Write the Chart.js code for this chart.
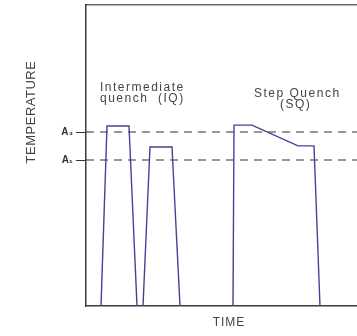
<!DOCTYPE html>
<html>
<head>
<meta charset="utf-8">
<script src="https://cdn.jsdelivr.net/npm/chart.js@4"></script>
<style>
  body { margin: 0; background: #fff; }
</style>
</head>
<body>
<canvas id="quench_canvas" width="357" height="336"></canvas>
<script>
// time / temperature points of each treatment (arbitrary units)
const iq1Time = [15, 21, 43, 51];
const iq1Temp = [0, 59.8, 59.8, 0];
const iq2Time = [57, 64, 86, 94];
const iq2Temp = [0, 52.8, 52.8, 0];
const sqTime = [147, 148, 166, 212, 228, 234];
const sqTemp = [0, 60.1, 60.1, 53.2, 53.2, 0];

// critical temperatures
const levelNames = ['A₁', 'A₃'];
const levelTemps = [48.5, 57.8];

const timeMax = 271;
const tempMax = 100;

function toPoints(xs, ys) {
    return xs.map((x, i) => ({ x: x, y: ys[i] }));
}

const lineColor = '#4b3f95';
const inkColor = '#3c3c3c';

const datasets = [
    { data: toPoints(iq1Time, iq1Temp) },
    { data: toPoints(iq2Time, iq2Temp) },
    { data: toPoints(sqTime, sqTemp) }
].map(ds => Object.assign(ds, {
    borderColor: lineColor,
    borderWidth: 1.4,
    pointRadius: 0,
    fill: false,
    tension: 0
}));

levelTemps.forEach(t => {
    datasets.push({
        data: [{ x: 0, y: t }, { x: timeMax, y: t }],
        borderColor: '#333',
        borderWidth: 1.2,
        borderDash: [8, 6],
        pointRadius: 0,
        fill: false
    });
});

// free text of the figure
const labelPlugin = {
    id: 'labels',
    afterDraw(chart) {
        const c = chart.ctx;
        c.save();
        c.fillStyle = '#444';
        c.textBaseline = 'middle';
        c.letterSpacing = '1.5px';
        c.font = '12px "Liberation Sans"';
        c.textAlign = 'left';
        c.fillText('Intermediate', 100, 88);
        c.fillText('quench  (IQ)', 100, 99);
        c.fillText('Step Quench', 254, 94);
        c.fillText('(SQ)', 280, 105);

        c.letterSpacing = '1px';
        c.textAlign = 'center';
        c.fillText('TIME', 229, 323);

        c.letterSpacing = '0.5px';
        c.font = '13px "Liberation Sans"';
        c.translate(31, 112);
        c.rotate(-Math.PI / 2);
        c.fillText('TEMPERATURE', 0, 0);
        c.restore();
    }
};

const ctx = document.getElementById('quench_canvas');
const theChart = new Chart(ctx, {
    type: 'line',
    data: { datasets: datasets },
    options: {
        responsive: false,
        animation: false,
        layout: { padding: 0 },
        plugins: { legend: { display: false }, tooltip: { enabled: false } },
        scales: {
            x: {
                type: 'linear', min: 0, max: timeMax,
                ticks: { display: false },
                grid: { display: false },
                border: { display: true, color: inkColor, width: 1.5 },
                afterFit: s => { s.height = 30; }
            },
            xTop: {
                type: 'linear', position: 'top', min: 0, max: timeMax,
                ticks: { display: false },
                grid: { display: false },
                border: { display: true, color: '#666', width: 1.5 },
                afterFit: s => { s.height = 5; }
            },
            y: {
                type: 'linear', min: 0, max: tempMax,
                afterBuildTicks: s => { s.ticks = levelTemps.map(v => ({ value: v })); },
                ticks: {
                    color: '#333',
                    padding: 3,
                    font: { family: 'Liberation Sans', size: 10, weight: 'bold' },
                    callback: v => levelNames[levelTemps.indexOf(v)]
                },
                grid: { display: true, drawOnChartArea: false, drawTicks: true, tickLength: 10, color: '#333' },
                border: { display: true, color: inkColor, width: 1.5 },
                afterFit: s => {
                    s.width = 86;
                    s.paddingTop = 0;
                    s.paddingBottom = 0;
                }
            }
        }
    },
    plugins: [labelPlugin]
});
</script>
</body>
</html>
